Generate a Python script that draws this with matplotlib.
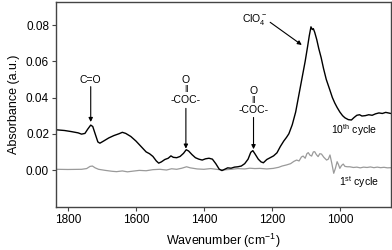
import matplotlib
matplotlib.use("Agg")
import matplotlib.pyplot as plt
import numpy as np

plt.rcParams["font.family"] = ["Liberation Sans", "DejaVu Sans"]
plt.rcParams["mathtext.fontset"] = "custom"
plt.rcParams["mathtext.rm"] = "Liberation Sans"
plt.rcParams["mathtext.it"] = "Liberation Sans:italic"

# 10th cycle spectrum (wavenumber, absorbance)
wn_10 = [1835, 1810, 1790, 1770, 1760, 1750, 1742, 1733, 1727, 1720, 1712, 1706,
         1695, 1680, 1665, 1650, 1640, 1630, 1615, 1600, 1585, 1570, 1560, 1550,
         1540, 1533, 1525, 1515, 1505, 1497, 1490, 1480, 1470, 1460, 1452, 1445,
         1435, 1425, 1415, 1405, 1395, 1385, 1375, 1365, 1355, 1347, 1340, 1330,
         1320, 1310, 1300, 1290, 1280, 1270, 1262, 1256, 1250, 1240, 1232, 1225,
         1215, 1205, 1195, 1185, 1175, 1165, 1157, 1150, 1140, 1130, 1120, 1110,
         1102, 1095, 1090, 1085, 1081, 1078, 1074, 1068, 1062, 1055, 1048, 1040,
         1030, 1022, 1015, 1008, 1000, 992, 985, 975, 966, 958, 950, 942, 935,
         925, 915, 905, 895, 885, 875, 865, 850]
abs_10 = [0.0222, 0.0218, 0.0212, 0.0205, 0.0198, 0.0202, 0.0225, 0.0248, 0.0240,
          0.0200, 0.0155, 0.0148, 0.0160, 0.0177, 0.0190, 0.0200, 0.0208, 0.0202,
          0.0185, 0.0160, 0.0130, 0.0100, 0.0090, 0.0075, 0.0050, 0.0038, 0.0045,
          0.0058, 0.0065, 0.0078, 0.0070, 0.0068, 0.0075, 0.0092, 0.0112, 0.0105,
          0.0085, 0.0068, 0.0060, 0.0055, 0.0062, 0.0065, 0.0060, 0.0035, 0.0005,
          -0.0003, 0.0003, 0.0012, 0.0010, 0.0016, 0.0018, 0.0022, 0.0035, 0.0060,
          0.0098, 0.0107, 0.0090, 0.0060, 0.0045, 0.0040, 0.0058, 0.0068, 0.0078,
          0.0095, 0.0130, 0.0160, 0.0180, 0.0200, 0.0250, 0.0320, 0.0420, 0.0520,
          0.0600, 0.0680, 0.0740, 0.0790, 0.0775, 0.0780, 0.0760, 0.0720, 0.0670,
          0.0620, 0.0560, 0.0500, 0.0445, 0.0400, 0.0370, 0.0345, 0.0320, 0.0300,
          0.0288, 0.0278, 0.0276, 0.0290, 0.0302, 0.0305, 0.0298, 0.0300, 0.0305,
          0.0302, 0.0310, 0.0315, 0.0312, 0.0318, 0.0312]

# 1st cycle spectrum
wn_1 = [1835, 1800, 1760, 1745, 1735, 1728, 1720, 1710, 1690, 1670, 1657, 1640,
        1625, 1608, 1590, 1570, 1550, 1530, 1510, 1495, 1480, 1465, 1451, 1440,
        1420, 1400, 1380, 1363, 1345, 1320, 1300, 1280, 1265, 1250, 1235, 1215,
        1196, 1180, 1170, 1157, 1145, 1135, 1127, 1120, 1113, 1108, 1102, 1097,
        1093, 1088, 1083, 1078, 1074, 1069, 1064, 1059, 1054, 1047, 1039, 1034,
        1029, 1024, 1018, 1013, 1008, 1004, 1000, 995, 990, 985, 978, 971, 960,
        950, 940, 930, 920, 910, 900, 890, 880, 870, 860, 850]
abs_1 = [0.0004, 0.0003, 0.0004, 0.0008, 0.0020, 0.0022, 0.0012, 0.0004, -0.0002,
         -0.0007, -0.0009, -0.0005, -0.0010, -0.0006, -0.0002, -0.0004, 0.0002,
         0.0004, 0.0000, 0.0007, 0.0004, 0.0010, 0.0018, 0.0012, 0.0006, 0.0004,
         0.0008, 0.0004, 0.0000, 0.0004, 0.0008, 0.0006, 0.0010, 0.0008, 0.0009,
         0.0006, 0.0009, 0.0015, 0.0022, 0.0028, 0.0035, 0.0048, 0.0055, 0.0050,
         0.0072, 0.0077, 0.0065, 0.0090, 0.0096, 0.0082, 0.0077, 0.0100, 0.0101,
         0.0085, 0.0074, 0.0090, 0.0088, 0.0070, 0.0055, 0.0060, 0.0083, 0.0040,
         -0.0018, 0.0010, 0.0046, 0.0030, 0.0009, 0.0025, 0.0033, 0.0020, 0.0018,
         0.0018, 0.0014, 0.0016, 0.0012, 0.0016, 0.0014, 0.0017, 0.0013, 0.0016,
         0.0013, 0.0015, 0.0012, 0.0013]

x_ticks = [1800, 1600, 1400, 1200, 1000]
y_ticks = [0.00, 0.02, 0.04, 0.06, 0.08]

fig = plt.figure(figsize=(3.92, 2.5), dpi=100)
ax = fig.add_axes([0.143, 0.172, 0.854, 0.820])

ax.plot(wn_1, abs_1, color="#9a9a9a", lw=0.9)
ax.plot(wn_10, abs_10, color="black", lw=1.0)

ax.set_xlim(1835, 850)
ax.set_ylim(-0.0204, 0.0927)
ax.set_xticks(x_ticks)
ax.set_yticks(y_ticks)
ax.set_yticklabels([f"{v:.2f}" for v in y_ticks])
ax.tick_params(labelsize=8.5, length=3, width=0.8, color="#444444", pad=2)
for s in ax.spines.values():
    s.set_color("#444444")
    s.set_linewidth(1.0)

ax.set_xlabel("Wavenumber (cm$^{-1}$)", fontsize=9, labelpad=4)
ax.set_ylabel("Absorbance (a.u.)", fontsize=9, labelpad=4)

arr = dict(arrowstyle="-|>", color="black", lw=0.8, mutation_scale=6,
           shrinkA=0, shrinkB=0)
afs = 7.5

ax.annotate("", xy=(1733, 0.0265), xytext=(1733, 0.046), arrowprops=arr)
ax.text(1733, 0.0495, "C=O", fontsize=afs, ha="center", va="center")

ax.annotate("", xy=(1453, 0.0118), xytext=(1453, 0.034), arrowprops=arr)
ax.text(1453, 0.0385, "-COC-", fontsize=afs, ha="center", va="center")
ax.text(1453, 0.0445, "‖", fontsize=afs - 1, ha="center", va="center")
ax.text(1453, 0.0495, "O", fontsize=afs, ha="center", va="center")

ax.annotate("", xy=(1254, 0.0115), xytext=(1254, 0.029), arrowprops=arr)
ax.text(1254, 0.033, "-COC-", fontsize=afs, ha="center", va="center")
ax.text(1254, 0.0385, "‖", fontsize=afs - 1, ha="center", va="center")
ax.text(1254, 0.0435, "O", fontsize=afs, ha="center", va="center")

ax.annotate("", xy=(1112, 0.0690), xytext=(1205, 0.0815), arrowprops=arr)
ax.text(1250, 0.0830, "ClO$_4^-$", fontsize=afs, ha="center", va="center")

ax.text(957, 0.0221, "10$^{\\mathrm{th}}$ cycle", fontsize=afs, ha="center", va="center")
ax.text(944, -0.0066, "1$^{\\mathrm{st}}$ cycle", fontsize=afs, ha="center", va="center")

fig.savefig("out.png", dpi=100)
